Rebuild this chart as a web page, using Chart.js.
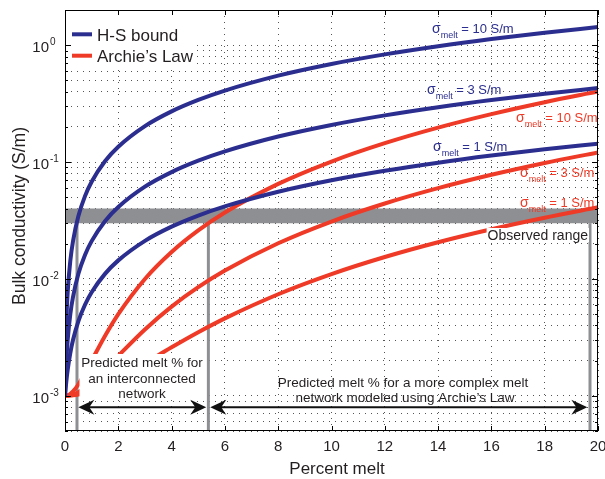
<!DOCTYPE html>
<html lang="en">
<head>
<meta charset="UTF-8">
<title>Bulk conductivity vs percent melt</title>
<style>
  body { margin: 0; background: #fff; }
  #chart { display: block; }
</style>
<script src="https://cdn.jsdelivr.net/npm/chart.js@4"></script>
</head>
<body>
<canvas id="chart" width="605" height="479"></canvas>
<script>
// percent melt sample points (denser near 0, where the H-S curves shoot up)
const meltPercent = [0, 0.025, 0.05, 0.1, 0.2, 0.3, 0.5, 0.75, 1, 1.5, 2, 3, 4, 5, 6, 8, 10, 12, 14, 16, 18, 20];

// H-S upper bound, bulk conductivity in S/m
const hs10 = [0.001, 0.002667, 0.004334, 0.007669, 0.01434, 0.02102, 0.03439, 0.05112, 0.06789, 0.1015, 0.1352, 0.2030, 0.2713, 0.3400, 0.4091, 0.5489, 0.6906, 0.8343, 0.9800, 1.1277, 1.2775, 1.4295];
const hs3 = [0.001, 0.0015, 0.002, 0.003, 0.005002, 0.007005, 0.011015, 0.016035, 0.02106, 0.031146, 0.04126, 0.0616, 0.08207, 0.10268, 0.12343, 0.16536, 0.20786, 0.25096, 0.29466, 0.33897, 0.38392, 0.4295];
const hs1 = [0.001, 0.0011666, 0.0013333, 0.0016665, 0.0023336, 0.003001, 0.004337, 0.00601, 0.007686, 0.011045, 0.014416, 0.021192, 0.028014, 0.034881, 0.041796, 0.055767, 0.069931, 0.084292, 0.098853, 0.11362, 0.1286, 0.14379];

// Archie's law, bulk conductivity in S/m
const archie10 = [0.001, 0.0010006, 0.0010025, 0.00101, 0.00104, 0.00109, 0.00125, 0.0015625, 0.002, 0.00325, 0.005, 0.01, 0.017, 0.026, 0.037, 0.065, 0.101, 0.145, 0.197, 0.257, 0.325, 0.401];
const archie3 = [0.001, 0.0010002, 0.00100075, 0.001003, 0.001012, 0.001027, 0.001075, 0.00116875, 0.0013, 0.001675, 0.0022, 0.0037, 0.0058, 0.0085, 0.0118, 0.0202, 0.031, 0.0442, 0.0598, 0.0778, 0.0982, 0.121];
const archie1 = [0.001, 0.0010001, 0.00100025, 0.001001, 0.001004, 0.001009, 0.001025, 0.00105625, 0.0011, 0.001225, 0.0014, 0.0019, 0.0026, 0.0035, 0.0046, 0.0074, 0.011, 0.0154, 0.0206, 0.0266, 0.0334, 0.041];

const observedRange = [0.03, 0.04];          // S/m
const meltLimits = [0.45, 5.38, 19.7];        // % melt where curves enter the range
const arrowSpans = [[0.5, 5.3], [5.45, 19.6]];
const arrowLevel = 0.0008;

const xTicks = [0, 2, 4, 6, 8, 10, 12, 14, 16, 18, 20];
const yDecades = [0.001, 0.01, 0.1, 1];
const yDecadeLabels = ['-3', '-2', '-1', '0'];

const BLUE = '#2b2e8e';
const RED = '#ee3a26';
const GRAY = '#8e8f93';
const INK = '#231f20';
const FONT = '"Liberation Sans", Arial, Helvetica, sans-serif';

// minor grid positions on the log axis: 5e-4 ... 9e-4, 1e-3 ... 9e-3, ... 1, 2
const yGrid = [];
for (let e = -4; e <= 0; e++) {
    for (let m = 1; m <= 9; m++) {
        const v = m * Math.pow(10, e);
        if (v >= 0.0005 - 1e-12 && v <= 2 + 1e-9) yGrid.push(+v.toPrecision(3));
    }
}

function curve(values, color) {
    return {
        data: meltPercent.map((x, i) => ({ x: x, y: values[i] })),
        borderColor: color,
        borderWidth: 4,
        pointRadius: 0,
        cubicInterpolationMode: 'monotone',
        fill: false,
        order: 0
    };
}

const datasets = [
    curve(hs10, BLUE), curve(hs3, BLUE), curve(hs1, BLUE),
    curve(archie10, RED), curve(archie3, RED), curve(archie1, RED),
    {
        data: [{ x: 0, y: observedRange[0] }, { x: 20, y: observedRange[0] }],
        borderColor: 'rgba(0,0,0,0)', pointRadius: 0, fill: false, order: 2
    },
    {
        data: [{ x: 0, y: observedRange[1] }, { x: 20, y: observedRange[1] }],
        borderColor: 'rgba(0,0,0,0)', pointRadius: 0, fill: '-1', backgroundColor: GRAY, order: 2
    }
];
meltLimits.forEach(m => {
    datasets.push({
        data: [{ x: m, y: 0.0005 }, { x: m, y: observedRange[0] }],
        borderColor: GRAY, borderWidth: 3, pointRadius: 0, fill: false, order: 1
    });
});

function sigmaLabel(ctx, x0, base, rest, color) {
    ctx.fillStyle = color;
    ctx.textAlign = 'left';
    ctx.textBaseline = 'alphabetic';
    ctx.font = '14px ' + FONT;
    ctx.fillText('σ', x0, base);
    let xx = x0 + ctx.measureText('σ').width;
    ctx.font = '9px ' + FONT;
    ctx.fillText('melt', xx, base + 4.5);
    xx += ctx.measureText('melt').width;
    ctx.font = '13px ' + FONT;
    ctx.fillText(rest, xx, base);
}

function arrowHead(ctx, tipX, yy, dir) {
    ctx.beginPath();
    ctx.moveTo(tipX, yy);
    ctx.lineTo(tipX - dir * 16, yy - 7.5);
    ctx.lineTo(tipX - dir * 11, yy);
    ctx.lineTo(tipX - dir * 16, yy + 7.5);
    ctx.closePath();
    ctx.fill();
}

const annotate = {
    id: 'annotate',
    afterDatasetsDraw(chart) {
        const { ctx, chartArea: a, scales: { x, y } } = chart;
        ctx.save();

        // legend
        ctx.fillStyle = '#fff';
        ctx.fillRect(a.left + 1, a.top + 1, 131, 56);
        ctx.lineWidth = 4;
        ctx.strokeStyle = BLUE;
        ctx.beginPath(); ctx.moveTo(72, 34.3); ctx.lineTo(92, 34.3); ctx.stroke();
        ctx.strokeStyle = RED;
        ctx.beginPath(); ctx.moveTo(72, 55.7); ctx.lineTo(92, 55.7); ctx.stroke();
        ctx.fillStyle = INK;
        ctx.font = '17px ' + FONT;
        ctx.textAlign = 'left';
        ctx.textBaseline = 'alphabetic';
        ctx.fillText('H-S bound', 97, 40.7);
        ctx.fillText('Archie\u2019s Law', 97, 62);

        // curve labels
        sigmaLabel(ctx, 432, 33.3, ' = 10 S/m', BLUE);
        sigmaLabel(ctx, 427, 94, ' = 3 S/m', BLUE);
        sigmaLabel(ctx, 516, 122, ' = 10 S/m', RED);
        sigmaLabel(ctx, 433, 151.4, ' = 1 S/m', BLUE);
        sigmaLabel(ctx, 520, 177, ' = 3 S/m', RED);
        sigmaLabel(ctx, 520, 207.4, ' = 1 S/m', RED);

        // observed range
        ctx.font = '14px ' + FONT;
        const orW = ctx.measureText('Observed range').width;
        ctx.fillStyle = '#fff';
        ctx.fillRect(588 - orW - 1, 228, orW + 2, 14);
        ctx.fillStyle = INK;
        ctx.textAlign = 'right';
        ctx.fillText('Observed range', 588, 239.5);

        // interconnected network box
        ctx.fillStyle = '#fff';
        ctx.fillRect(79.5, 354, 126, 45);
        ctx.fillStyle = INK;
        ctx.textAlign = 'center';
        ctx.font = '13.5px ' + FONT;
        ctx.fillText('Predicted melt % for', 142, 367.3);
        ctx.fillText('an interconnected', 142, 383.3);
        ctx.fillText('network', 142, 398.3);

        ctx.fillText('Predicted melt % for a more complex melt', 403, 386.5);
        ctx.fillText('network modeled using Archie\u2019s Law', 405, 401.5);

        // double arrows
        ctx.fillStyle = '#111';
        ctx.strokeStyle = '#111';
        ctx.lineWidth = 2;
        const ay = y.getPixelForValue(arrowLevel);
        arrowSpans.forEach(s => {
            const x1 = x.getPixelForValue(s[0]);
            const x2 = x.getPixelForValue(s[1]);
            ctx.beginPath(); ctx.moveTo(x1 + 10, ay); ctx.lineTo(x2 - 10, ay); ctx.stroke();
            arrowHead(ctx, x1, ay, -1);
            arrowHead(ctx, x2, ay, 1);
        });

        // axes box with inward ticks
        ctx.strokeStyle = '#000';
        ctx.lineWidth = 1;
        ctx.strokeRect(a.left + 0.5, a.top + 0.5, a.right - a.left - 1, a.bottom - a.top - 1);
        ctx.beginPath();
        xTicks.forEach(v => {
            const px = Math.round(x.getPixelForValue(v)) + 0.5;
            ctx.moveTo(px, a.bottom); ctx.lineTo(px, a.bottom - 5);
            ctx.moveTo(px, a.top); ctx.lineTo(px, a.top + 5);
        });
        yGrid.forEach(v => {
            const py = Math.round(y.getPixelForValue(v)) + 0.5;
            const len = yDecades.includes(v) ? 6 : 3;
            ctx.moveTo(a.left, py); ctx.lineTo(a.left + len, py);
            ctx.moveTo(a.right, py); ctx.lineTo(a.right - len, py);
        });
        ctx.stroke();

        // tick labels
        ctx.fillStyle = INK;
        ctx.textAlign = 'center';
        ctx.font = '15px ' + FONT;
        xTicks.forEach(v => ctx.fillText(String(v), x.getPixelForValue(v), 450.5));
        yDecades.forEach((v, i) => {
            const py = y.getPixelForValue(v);
            ctx.font = '15px ' + FONT;
            ctx.textAlign = 'right';
            ctx.fillText('10', 49, py + 7);
            ctx.font = '10px ' + FONT;
            ctx.textAlign = 'left';
            ctx.fillText(yDecadeLabels[i], 50, py);
        });

        // axis titles
        ctx.textAlign = 'center';
        ctx.font = '17px ' + FONT;
        ctx.fillText('Percent melt', 337, 474);
        ctx.translate(25, 216);
        ctx.rotate(-Math.PI / 2);
        ctx.font = '17.5px ' + FONT;
        ctx.fillText('Bulk conductivity (S/m)', 0, 0);

        ctx.restore();
    }
};

new Chart(document.getElementById('chart'), {
    type: 'line',
    data: { datasets: datasets },
    options: {
        responsive: false,
        animation: false,
        events: [],
        layout: { padding: { left: 65, right: 7, top: 10, bottom: 48 } },
        plugins: { legend: { display: false }, tooltip: { enabled: false } },
        scales: {
            x: {
                type: 'linear', min: 0, max: 20,
                ticks: { display: false, stepSize: 2 },
                grid: { color: '#555', drawTicks: false },
                border: { display: false, dash: [1, 5] }
            },
            y: {
                type: 'logarithmic', min: 0.0005, max: 2,
                ticks: { display: false },
                afterBuildTicks: s => { s.ticks = yGrid.map(v => ({ value: v })); },
                grid: { color: '#555', drawTicks: false },
                border: { display: false, dash: [1, 5] }
            }
        }
    },
    plugins: [annotate]
});
</script>
</body>
</html>
